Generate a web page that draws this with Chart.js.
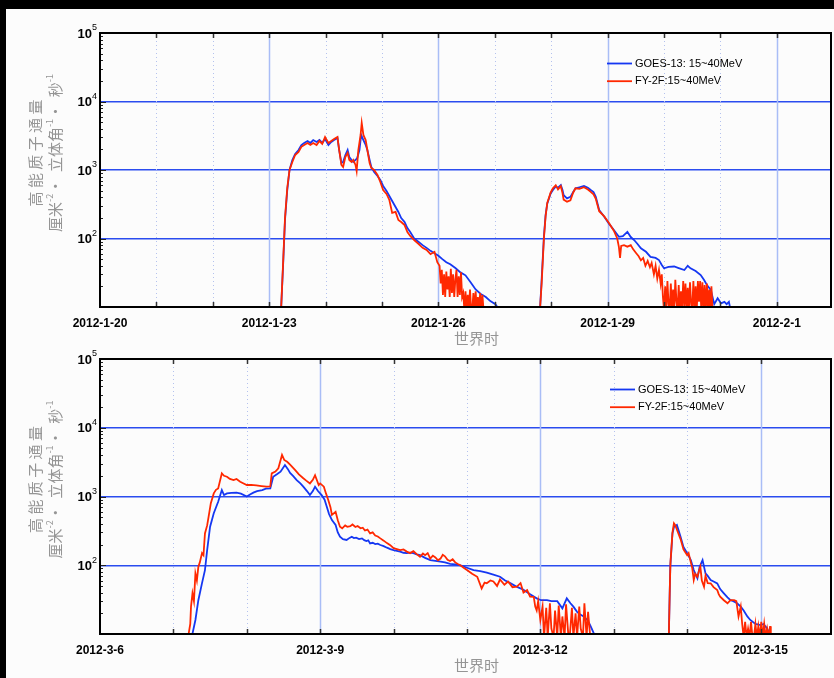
<!DOCTYPE html>
<html>
<head>
<meta charset="utf-8">
<script src="https://cdn.jsdelivr.net/npm/chart.js@4.4.0/dist/chart.umd.min.js"></script>
<style>
html,body{margin:0;padding:0;background:#000;width:834px;height:678px;overflow:hidden;}
#page{position:absolute;left:6px;top:9px;width:828px;height:669px;background:#fcfcfc;}
#c1{position:absolute;left:0;top:0;}
#c2{position:absolute;left:0;top:340px;}
</style>
</head>
<body>
<div id="page"></div>
<canvas id="c1" width="834" height="350"></canvas>
<canvas id="c2" width="834" height="338"></canvas>
<script>

/* time in days from first label, flux in cm-2 sr-1 s-1 */

let goesJan = [
[3.21,9],[3.25,48],[3.28,186],[3.32,510],[3.36,1000],[3.41,1400],[3.46,1714],[3.52,1960],[3.57,2317],[3.62,2480],
[3.68,2650],[3.73,2480],[3.78,2740],[3.84,2565],[3.89,2740],[3.94,2480],[3.99,2835],[4.05,2317],[4.10,2565],[4.15,2740],
[4.21,2930],[4.24,1960],[4.28,1265],[4.31,1308],[4.35,1656],[4.39,1960],[4.42,1549],[4.46,1400],[4.49,1308],[4.53,1400],
[4.56,1497],[4.60,1960],[4.63,3245],[4.67,2740],[4.71,2317],[4.74,1960],[4.78,1400],[4.81,1107],[4.86,935],[4.92,817],
[4.97,714],[5.02,584],[5.08,493],[5.13,417],[5.18,352],[5.24,288],[5.29,244],[5.34,199],[5.40,174],[5.45,142],
[5.50,124],[5.57,100],[5.65,89],[5.72,80],[5.79,73],[5.86,66],[5.93,61],[6.00,56],[6.07,50],[6.14,45],
[6.21,42],[6.30,37],[6.39,32],[6.48,29],[6.57,23],[6.66,18],[6.75,15.5],[6.84,14],[6.92,12.2],[7.01,11],[7.08,9],
[7.5,null],
[7.80,9],[7.83,25],[7.87,106],[7.90,220],[7.93,325],[7.99,455],[8.03,510],[8.08,575],[8.12,550],[8.17,600],
[8.20,510],[8.22,430],[8.28,386],[8.34,405],[8.39,477],[8.43,540],[8.50,560],[8.58,585],[8.65,550],[8.70,510],
[8.75,477],[8.79,405],[8.85,260],[8.94,208],[9.02,166],[9.11,133],[9.20,106],[9.27,108],[9.35,125],[9.41,105],
[9.47,95],[9.53,83],[9.59,72],[9.68,64],[9.76,54],[9.85,52],[9.91,48.5],[9.96,41],[10.00,36.7],[10.08,38.4],
[10.18,39],[10.26,37],[10.36,34.7],[10.42,40],[10.47,36.7],[10.56,33.5],[10.65,29.3],[10.71,24.8],[10.76,21],[10.83,17.7],
[10.89,11],[10.95,13.4],[11.01,11.3],[11.07,11.9],[11.11,11],[11.15,11.9],[11.18,9]
];

let fyJan = [
[3.21,9],[3.25,52],[3.28,199],[3.32,546],[3.36,1000],[3.41,1308],[3.46,1656],[3.52,1841],[3.57,2180],[3.62,2317],
[3.68,2480],[3.73,2317],[3.78,2480],[3.84,2317],[3.89,2650],[3.94,2400],[3.99,3030],[4.05,2480],[4.10,2650],[4.15,2835],
[4.21,3030],[4.24,1960],[4.28,1185],[4.31,1107],[4.35,1549],[4.39,1775],[4.42,1400],[4.46,1308],[4.49,1400],[4.53,1185],
[4.55,967],[4.58,1960],[4.62,3245],[4.64,4850],[4.67,3245],[4.71,2740],[4.74,1960],[4.78,1265],[4.81,1070],[4.86,1000],
[4.92,845],[4.97,668],[5.02,510],[5.08,447],[5.13,365],[5.18,236],[5.24,244],[5.29,186],[5.34,174],[5.40,157],
[5.45,124],[5.50,109],[5.57,95],[5.65,83],[5.72,73],[5.79,68],[5.86,59],[5.93,64],[5.98,45],
[6.02,40],[6.04,22],[6.06,35],[6.08,15],[6.10,30],[6.12,14],[6.14,33],[6.16,18],[6.18,28],[6.20,14],
[6.22,36],[6.24,16],[6.26,30],[6.28,14],[6.30,25],[6.32,35],[6.34,14],[6.36,28],[6.38,15],[6.40,32],
[6.42,14],[6.44,16],[6.46,9],[6.48,17],[6.50,9],[6.52,15],[6.54,9],[6.56,18],[6.58,9],[6.60,9],
[6.62,16],[6.64,9],[6.66,17],[6.68,9],[6.70,14],[6.72,9],[6.74,16],[6.76,9],[6.78,15],[6.80,9],
[7.5,null],
[7.80,9],[7.83,22],[7.87,100],[7.90,210],[7.93,330],[7.99,470],[8.03,540],[8.08,600],[8.12,520],[8.17,580],
[8.20,460],[8.22,370],[8.28,345],[8.34,360],[8.39,470],[8.43,540],[8.50,530],[8.58,560],[8.65,520],[8.70,480],
[8.75,440],[8.79,380],[8.85,250],[8.94,210],[9.02,170],[9.11,130],[9.17,100],[9.20,75],[9.22,52],[9.24,78],
[9.29,80],[9.35,76],[9.41,80],[9.45,70],[9.50,62],[9.55,55],[9.59,48],[9.63,52],[9.67,40],[9.71,47],
[9.75,38],[9.78,44],[9.82,30],[9.85,40],[9.88,26],[9.91,35],[9.94,22],[9.96,30],[9.98,14],[10.00,9],
[10.02,20],[10.04,9],[10.06,24],[10.08,11],[10.10,9],[10.12,22],[10.14,9],[10.16,18],[10.18,9],[10.20,25],
[10.22,12],[10.24,9],[10.26,21],[10.28,9],[10.30,17],[10.32,9],[10.34,24],[10.36,10],[10.38,22],[10.40,9],
[10.42,19],[10.44,9],[10.46,23],[10.48,11],[10.50,9],[10.52,24],[10.54,9],[10.56,20],[10.58,9],[10.60,24],
[10.62,12],[10.64,24],[10.66,9],[10.68,23],[10.70,9],[10.72,21],[10.74,9],[10.76,22],[10.78,9],[10.80,18],
[10.82,9],[10.84,20],[10.86,9]
];

let goesMar = [
[1.25,9],[1.30,16],[1.34,31],[1.39,55],[1.43,85],[1.46,166],[1.50,364],[1.55,570],[1.61,840],[1.66,1240],
[1.69,1050],[1.73,1110],[1.79,1130],[1.86,1140],[1.92,1100],[2.00,1000],[2.05,1080],[2.09,1140],[2.14,1200],[2.21,1240],
[2.26,1300],[2.32,1310],[2.36,1940],[2.41,2100],[2.46,2300],[2.52,2870],[2.56,2500],[2.59,2200],[2.63,2000],[2.68,1730],
[2.73,1550],[2.77,1390],[2.82,1200],[2.86,1050],[2.90,1200],[2.93,1390],[2.97,1200],[3.02,1050],[3.06,900],[3.09,710],
[3.12,560],[3.16,454],[3.21,385],[3.24,300],[3.27,260],[3.31,240],[3.36,233],[3.40,250],[3.43,260],[3.46,248],
[3.49,252],[3.53,240],[3.57,246],[3.60,232],[3.63,225],[3.655,230],[3.68,208],[3.715,212],[3.75,203],[3.785,206],
[3.82,197],[3.865,190],[3.91,180],[3.955,172],[4.00,166],[4.045,162],[4.09,158],[4.135,152],[4.18,150],[4.225,153],
[4.27,150],[4.315,144],[4.36,140],[4.43,128],[4.50,119],[4.57,116],[4.64,113],[4.70,110],[4.77,105],[4.84,103],
[4.91,100],[5.00,92],[5.09,85],[5.18,82],[5.27,78],[5.36,73],
[5.45,68],[5.52,60],[5.59,55],[5.69,48],[5.77,44],[5.86,38],[5.95,33],[6.01,31],[6.09,31],[6.15,30],
[6.23,30],[6.30,23.6],[6.36,33],[6.41,28],[6.45,25],[6.50,21],[6.55,19],[6.59,18],[6.64,16],[6.67,14],[6.70,12],[6.75,9],
[7.2,null],
[7.75,9],[7.76,30],[7.77,95],[7.80,290],[7.82,360],[7.86,385],[7.88,330],[7.91,260],[7.95,185],[8.00,150],
[8.05,119],[8.09,85],[8.14,64.5],[8.17,95],[8.21,119],[8.25,76],[8.28,70],[8.32,61],[8.36,58],[8.41,54.6],
[8.45,45],[8.50,39],[8.55,34],[8.59,31],[8.63,30],[8.68,28],[8.73,25],[8.77,22],[8.82,18],[8.86,16],
[8.93,14],[9.00,13.5],[9.04,14],[9.09,12],[9.14,9]
];

let fyMar = [
[1.20,9],[1.23,14],[1.24,25],[1.26,39],[1.28,30],[1.30,76],[1.32,60],[1.34,95],[1.36,110],[1.39,150],
[1.41,140],[1.43,290],[1.46,380],[1.48,508],[1.51,800],[1.55,1110],[1.58,1250],[1.61,1310],[1.66,2170],[1.69,2000],
[1.73,1940],[1.77,1800],[1.82,1730],[1.86,1800],[1.91,1640],[1.95,1560],[2.00,1470],[2.06,1480],[2.13,1450],[2.20,1420],
[2.27,1390],[2.32,1400],[2.34,2170],[2.39,2300],[2.43,2570],[2.48,4020],[2.51,3400],[2.55,3200],[2.59,2900],[2.66,2420],
[2.71,2100],[2.77,1840],[2.81,1700],[2.86,1550],[2.90,1750],[2.93,2040],[2.98,1470],[3.00,1550],[3.05,1390],[3.08,1100],
[3.11,887],[3.14,700],[3.16,540],[3.21,600],[3.24,450],[3.27,364],[3.30,345],[3.34,380],[3.37,362],[3.41,370],
[3.44,392],[3.48,360],[3.51,372],[3.55,345],[3.58,352],[3.61,320],[3.645,330],[3.68,290],[3.715,300],[3.75,270],
[3.785,262],[3.82,246],[3.865,228],[3.91,210],[3.955,196],[4.00,177],[4.045,172],[4.09,166],[4.135,170],[4.18,158],
[4.225,150],[4.27,160],[4.315,145],[4.36,133],[4.40,148],[4.43,140],[4.465,150],[4.50,125],[4.535,138],[4.57,130],
[4.605,118],[4.64,125],[4.67,142],[4.70,135],[4.735,120],[4.77,115],[4.805,122],[4.84,110],[4.875,104],[4.91,100],
[4.955,92],[5.00,85],[5.07,75],
[5.14,68],[5.20,46],[5.24,56],[5.27,54.6],[5.32,60],[5.36,58],[5.41,50],[5.45,62],[5.51,52],[5.56,58],
[5.62,48],[5.68,49],[5.73,55],[5.77,40],[5.82,43.6],[5.86,35],[5.91,34.8],[5.93,25],[5.95,22],[5.97,30],
[6.00,16],[6.03,25],[6.05,9],[6.08,24],[6.10,9],[6.13,28],[6.15,12],[6.18,9],[6.20,22],[6.23,9],
[6.25,26],[6.28,9],[6.30,18],[6.33,9],[6.35,27],[6.38,10],[6.40,9],[6.43,24],[6.45,9],[6.48,20],
[6.50,9],[6.53,25],[6.55,12],[6.58,9],[6.60,28],[6.63,9],[6.65,21],[6.68,9],[6.70,9],
[7.2,null],
[7.75,9],[7.766,60],[7.773,110],[7.80,300],[7.82,408],[7.84,380],[7.87,310],[7.91,240],[7.95,170],[8.00,140],
[8.02,150],[8.05,110],[8.07,90],[8.09,61],[8.11,75],[8.14,68],[8.16,82],[8.18,95],[8.20,60],[8.23,48.8],
[8.25,70],[8.28,55],[8.32,54.6],[8.36,48],[8.41,43.6],[8.43,38],[8.45,35],[8.50,31],[8.55,28],[8.59,31],
[8.64,31],[8.67,30],[8.70,18],[8.73,25],[8.75,14],[8.77,9],[8.79,15],[8.81,9],[8.83,12],[8.85,9],
[8.87,15],[8.89,9],[8.91,9],[8.93,14],[8.95,9],[8.97,13],[8.99,9],[9.01,15],[9.03,9],[9.05,14],
[9.07,9],[9.09,12],[9.11,9],[9.13,13],[9.14,9]
];

let janLabelDays = [0,3,6,9,12];
let janLabels = ["2012-1-20","2012-1-23","2012-1-26","2012-1-29","2012-2-1"];
let marLabelDays = [0,3,6,9];
let marLabels = ["2012-3-6","2012-3-9","2012-3-12","2012-3-15"];

let yTicks = [100,1000,10000,100000];
let yExp = ["2","3","4","5"];

let seriesNames = ["GOES-13: 15~40MeV","FY-2F:15~40MeV"];
let seriesColors = ["#1537f2","#ff2800"];

let yTitle1 = [["高 能 质 子 通 量",false]];
let yTitle2 = [["厘米",false],["-2",true],["·  立体角",false],["-1",true],["·  秒",false],["-1",true]];
let xTitle = "世界时";

/* draw text made of normal and superscript parts */
function drawRich(ctx,parts,x,y,o){
let fonts = parts.map(p => p[1] ? o.supFont : o.font);
let widths = parts.map((p,i) => { ctx.font = fonts[i]; return ctx.measureText(p[0]).width; });
let total = widths.reduce((a,b)=>a+b,0);
let cx = o.align==="right" ? x-total : (o.align==="center" ? x-total/2 : x);
ctx.fillStyle = o.color;
ctx.textAlign = "left";
ctx.textBaseline = "middle";
parts.forEach((p,i) => {
ctx.font = fonts[i];
ctx.fillText(p[0], cx, p[1] ? y-o.supRaise : y);
cx += widths[i];
});
}

let decor = {
id:"decor",
beforeDatasetsDraw(chart){
let a = chart.chartArea, xs = chart.scales.x, ctx = chart.ctx;
ctx.save();
for(let d=1; d<=Math.floor(xs.max); d++){
let px = Math.round(xs.getPixelForValue(d))+0.5;
ctx.beginPath();
if(d%3===0){
ctx.strokeStyle="#a9bdf6"; ctx.lineWidth=1.5; ctx.setLineDash([]);
}else{
ctx.strokeStyle="#b4c2ee"; ctx.lineWidth=1; ctx.setLineDash([1,3]);
}
ctx.moveTo(px,a.top); ctx.lineTo(px,a.bottom); ctx.stroke();
}
ctx.restore();
},
afterDraw(chart,args,opts){
let a = chart.chartArea, xs = chart.scales.x, ys = chart.scales.y, ctx = chart.ctx;
ctx.save();
ctx.setLineDash([]);

/* day ticks top and bottom */
ctx.strokeStyle="#333"; ctx.lineWidth=1.5;
for(let d=1; d<=Math.floor(xs.max); d++){
let px = Math.round(xs.getPixelForValue(d))+0.5;
ctx.beginPath();
ctx.moveTo(px,a.bottom); ctx.lineTo(px,a.bottom-5);
ctx.moveTo(px,a.top); ctx.lineTo(px,a.top+5);
ctx.stroke();
}

/* log ticks on the left axis */
ctx.strokeStyle="#222"; ctx.lineWidth=1;
for(let k=1; k<5; k++){
for(let m=1; m<10; m++){
let v = m*Math.pow(10,k);
let py = Math.round(ys.getPixelForValue(v))+0.5;
ctx.beginPath();
ctx.moveTo(a.left,py); ctx.lineTo(a.left+(m===1?6:3),py);
ctx.stroke();
}
}

/* frame */
ctx.strokeStyle="#000"; ctx.lineWidth=2;
ctx.strokeRect(a.left,a.top,a.right-a.left,a.bottom-a.top);

/* y tick labels 10^n */
yTicks.forEach((v,i) => {
drawRich(ctx,[["10",false],[yExp[i],true]],a.left-3,ys.getPixelForValue(v)+1,
{font:"bold 13px 'Liberation Sans', Arial, sans-serif",supFont:"9px 'Liberation Sans', Arial, sans-serif",supRaise:6,color:"#000",align:"right"});
});

/* y title */
let cy = (a.top+a.bottom)/2-17;
let tOpt = {font:"15px 'Noto Sans CJK SC', sans-serif",supFont:"9px 'Noto Sans CJK SC', sans-serif",supRaise:5,color:"#959595",align:"center"};
[[yTitle1,35],[yTitle2,55]].forEach(l => {
ctx.save();
ctx.translate(l[1],cy);
ctx.rotate(-Math.PI/2);
drawRich(ctx,l[0],0,0,tOpt);
ctx.restore();
});

/* x title */
drawRich(ctx,[[xTitle,false]],(a.left+a.right)/2+11,a.bottom+31,tOpt);

/* legend */
chart.data.datasets.forEach((ds,i) => {
let ly = a.top+30.5+i*17.7;
let lx = a.left+opts.legendX;
ctx.strokeStyle = ds.borderColor; ctx.lineWidth = 1.8;
ctx.beginPath(); ctx.moveTo(lx,ly); ctx.lineTo(lx+25,ly); ctx.stroke();
ctx.fillStyle="#000"; ctx.font="11px 'Liberation Sans', Arial, sans-serif";
ctx.textAlign="left"; ctx.textBaseline="middle";
ctx.fillText(ds.label,lx+28,ly);
});

ctx.restore();
}
};

function makeChart(id,goes,fy,xMax,labelDays,labels,top,bottom,legendX){

let canvas = document.getElementById(id);

return new Chart(canvas.getContext("2d"),{
type:"line",
data:{
datasets:[
{label:seriesNames[0],data:goes.map(p=>({x:p[0],y:p[1]})),borderColor:seriesColors[0],borderWidth:1.8,pointRadius:0,tension:0,order:1},
{label:seriesNames[1],data:fy.map(p=>({x:p[0],y:p[1]})),borderColor:seriesColors[1],borderWidth:1.8,pointRadius:0,tension:0,order:0}
]
},
options:{
responsive:false,
animation:false,
events:[],
layout:{padding:{top:top,right:3,left:0,bottom:0}},
plugins:{
legend:{display:false},
tooltip:{enabled:false},
decor:{legendX:legendX}
},
scales:{
x:{
type:"linear",
min:0,
max:xMax,
afterBuildTicks:s=>{ s.ticks = labelDays.map(v=>({value:v})); },
afterFit:s=>{ s.height = canvas.height-bottom; },
ticks:{
autoSkip:false,
maxRotation:0,
padding:9,
color:"#000",
font:{family:"'Liberation Sans', Arial, sans-serif",weight:"bold",size:12},
callback:v=>{ let i = labelDays.indexOf(v); return i>=0 ? labels[i] : ""; }
},
grid:{display:false,drawTicks:false},
border:{display:false}
},
y:{
type:"logarithmic",
min:10,
max:100000,
afterBuildTicks:s=>{ s.ticks = yTicks.map(v=>({value:v})); },
afterFit:s=>{ s.width = 100; },
ticks:{display:false},
grid:{color:"#2b4cef",lineWidth:1.5,drawTicks:false},
border:{display:false}
}
}
},
plugins:[decor]
});

}

makeChart("c1",goesJan,fyJan,12.96,janLabelDays,janLabels,33,307,507);
makeChart("c2",goesMar,fyMar,9.96,marLabelDays,marLabels,19,294,510);

</script>
</body>
</html>
